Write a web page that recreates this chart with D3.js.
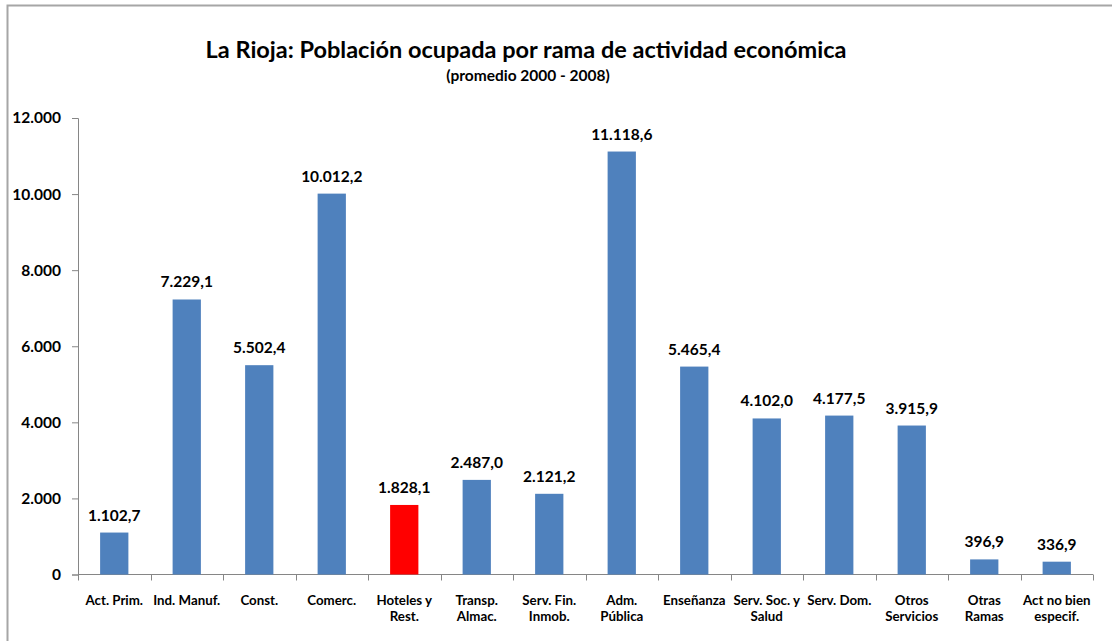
<!DOCTYPE html>
<html>
<head>
<meta charset="utf-8">
<script src="https://cdn.jsdelivr.net/npm/d3@7"></script>
<style>
  body { margin: 0; background: #fff; }
  text { font-family: Lato, "Open Sans", sans-serif; font-weight: bold; fill: #000; }
</style>
</head>
<body>
<div id="container"></div>
<script>
const categories = [
  ['Act. Prim.'], ['Ind. Manuf.'], ['Const.'], ['Comerc.'], ['Hoteles y', 'Rest.'],
  ['Transp.', 'Almac.'], ['Serv. Fin.', 'Inmob.'], ['Adm.', 'Pública'], ['Enseñanza'],
  ['Serv. Soc. y', 'Salud'], ['Serv. Dom.'], ['Otros', 'Servicios'], ['Otras', 'Ramas'],
  ['Act no bien', 'especif.']
]
const values = [1102.7, 7229.1, 5502.4, 10012.2, 1828.1, 2487.0, 2121.2, 11118.6,
  5465.4, 4102.0, 4177.5, 3915.9, 396.9, 336.9]
const highlighted = ['Hoteles y']
const yTicks = [0, 2000, 4000, 6000, 8000, 10000, 12000]

const width = 1112
const height = 641

const margins = { top: 118, bottom: 67, left: 78, right: 19 }

const svg = d3.select('#container')
  .append('svg')
  .attr('width', width)
  .attr('height', height)
  .attr('viewBox', [0, 0, width, height])

// chart frame
svg.append('path')
  .attr('d', `M7.5,${height} V5.5 H${width}`)
  .attr('fill', 'none')
  .attr('stroke', '#a6a6a6')
  .attr('stroke-width', 2)

svg.append('text')
  .attr('x', 526)
  .attr('y', 58)
  .attr('text-anchor', 'middle')
  .style('font-size', '23.5px')
  .text('La Rioja: Población ocupada por rama de actividad económica')

svg.append('text')
  .attr('x', 528)
  .attr('y', 81)
  .attr('text-anchor', 'middle')
  .style('font-size', '15.5px')
  .text('(promedio 2000 - 2008)')

const keys = categories.map(d => d.join(' '))

const x = d3.scaleBand(keys, [margins.left, width - margins.right])
  .paddingInner(0.61)
  .paddingOuter(0.305)

const y = d3.scaleLinear([0, 12000], [height - margins.bottom + 0.5, margins.top])

const fmt = d3.formatLocale({ decimal: ',', thousands: '.', grouping: [3], currency: ['', ''] })
const fmtTick = fmt.format(',.0f')
const fmtVal = fmt.format(',.1f')

// y axis
const yAxis = svg.append('g')
  .attr('transform', `translate(${margins.left},0)`)
  .call(d3.axisLeft(y).tickValues(yTicks).tickFormat(fmtTick).tickSize(6).tickPadding(11))
yAxis.select('.domain').attr('stroke', '#868686')
yAxis.selectAll('.tick line').attr('stroke', '#868686')
yAxis.selectAll('.tick text')
  .style('font-size', '15.5px')
  .style('font-family', 'Lato, sans-serif')
  .style('font-weight', 'bold')
  .attr('fill', '#000')

// x axis line and ticks at band boundaries
const xAxisY = y(0)
const step = x.step()
const boundaries = d3.range(keys.length + 1).map(i => margins.left + i * step)

svg.append('line')
  .attr('x1', margins.left)
  .attr('x2', boundaries[boundaries.length - 1])
  .attr('y1', xAxisY)
  .attr('y2', xAxisY)
  .attr('stroke', '#868686')

svg.append('g')
  .selectAll('line')
  .data(boundaries)
  .join('line')
  .attr('x1', d => Math.round(d) + 0.5)
  .attr('x2', d => Math.round(d) + 0.5)
  .attr('y1', xAxisY)
  .attr('y2', xAxisY + 6)
  .attr('stroke', '#868686')

// bars
svg.append('g')
  .selectAll('rect')
  .data(values)
  .join('rect')
  .attr('x', (d, i) => x(keys[i]))
  .attr('width', x.bandwidth())
  .attr('y', d => y(d))
  .attr('height', d => y(0) - y(d))
  .attr('fill', (d, i) => highlighted.includes(categories[i][0]) ? '#ff0000' : '#4f81bd')

// value labels
svg.append('g')
  .selectAll('text')
  .data(values)
  .join('text')
  .attr('x', (d, i) => x(keys[i]) + x.bandwidth() / 2)
  .attr('y', d => y(d) - 12)
  .attr('text-anchor', 'middle')
  .style('font-size', '15.5px')
  .text(d => fmtVal(d))

// category labels
const catText = svg.append('g')
  .selectAll('text')
  .data(categories)
  .join('text')
  .attr('transform', (d, i) => `translate(${x(keys[i]) + x.bandwidth() / 2},${xAxisY + 30})`)
  .attr('text-anchor', 'middle')
  .style('font-size', '13.3px')

catText.selectAll('tspan')
  .data(d => d)
  .join('tspan')
  .attr('x', 0)
  .attr('dy', (d, i) => i ? '1.25em' : 0)
  .text(d => d)
</script>
</body>
</html>
